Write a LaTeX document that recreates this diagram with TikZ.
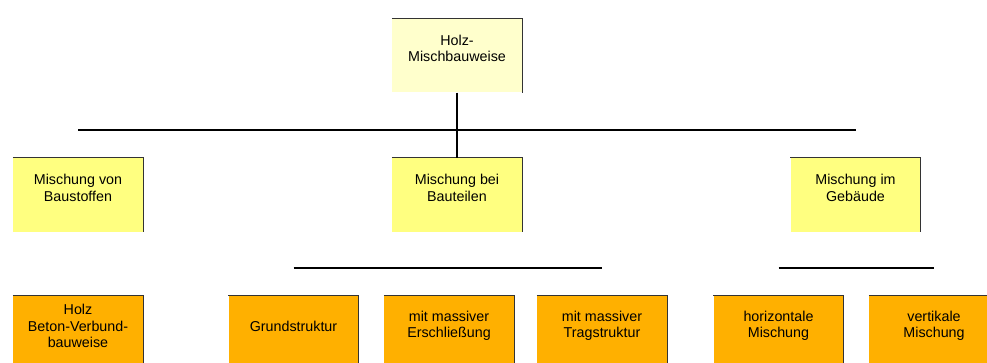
\documentclass[tikz,border=0pt]{standalone}
\usepackage{fontspec}
\setmainfont{Liberation Sans}
\usepackage{tikz}
\usepackage{xcolor}

\definecolor{topyel}{RGB}{255,255,204}
\definecolor{midyel}{RGB}{255,255,128}
\definecolor{lowor}{RGB}{255,176,0}

\tikzset{
  box/.style={minimum width=130pt,minimum height=74pt,inner sep=0pt},
  lvone/.style={box,fill=topyel},
  lvtwo/.style={box,fill=midyel},
  lvthree/.style={box,fill=lowor},
  txt/.style={align=center,yshift=7pt,font=\fontsize{14.3}{16.5}\selectfont},
  edge/.style={black!80,line width=1.2pt},
  bar/.style={black,line width=1.6pt}
}

\begin{document}
\begin{tikzpicture}[x=1pt,y=-1pt]
\useasboundingbox (0,0) rectangle (987,363);
\clip (0,0) rectangle (987,363);
\fill[white] (0,0) rectangle (987,363);

% top
\node[lvone,label={[txt]center:{Holz-\\Mischbauweise}}] (hm) at (457,55.5) {};

% second row
\node[lvtwo,label={[txt]center:{Mischung von\\Baustoffen}}] (ms) at (78,195) {};
\node[lvtwo,label={[txt]center:{Mischung bei\\Bauteilen}}] (mb) at (457,195) {};
\node[lvtwo,label={[txt]center:{Mischung im\\Gebäude}}] (mg) at (855.5,195) {};

% third row
\node[lvthree,label={[txt]center:{Holz\\Beton-Verbund-\\bauweise}}] (hb) at (78,333) {};
\node[lvthree,label={[txt]center:{Grundstruktur}}] (gs) at (293.5,333) {};
\node[lvthree,label={[txt]center:{mit massiver\\Erschließung}}] (me) at (449,333) {};
\node[lvthree,label={[txt]center:{mit massiver\\Tragstruktur}}] (mt) at (602,333) {};
\node[lvthree,label={[txt]center:{horizontale\\Mischung}}] (hz) at (778.5,333) {};
\node[lvthree,label={[txt]center:{vertikale\\Mischung}}] (vt) at (934,333) {};

% shadow edges
\foreach \n in {hm,ms,mb,mg,hb,gs,me,mt,hz,vt}
  \draw[edge] (\n.north west) -- (\n.north east) -- (\n.south east);

% connectors
\coordinate (barone) at (0,130);
\coordinate (bartwo) at (0,268);
\draw[bar] (ms |- barone) -- (mg |- barone);
\draw[bar] (hm.south) -- (mb.north);
\draw[bar] (gs |- bartwo) -- (mt |- bartwo);
\draw[bar] (hz |- bartwo) -- (vt |- bartwo);
\end{tikzpicture}
\end{document}
